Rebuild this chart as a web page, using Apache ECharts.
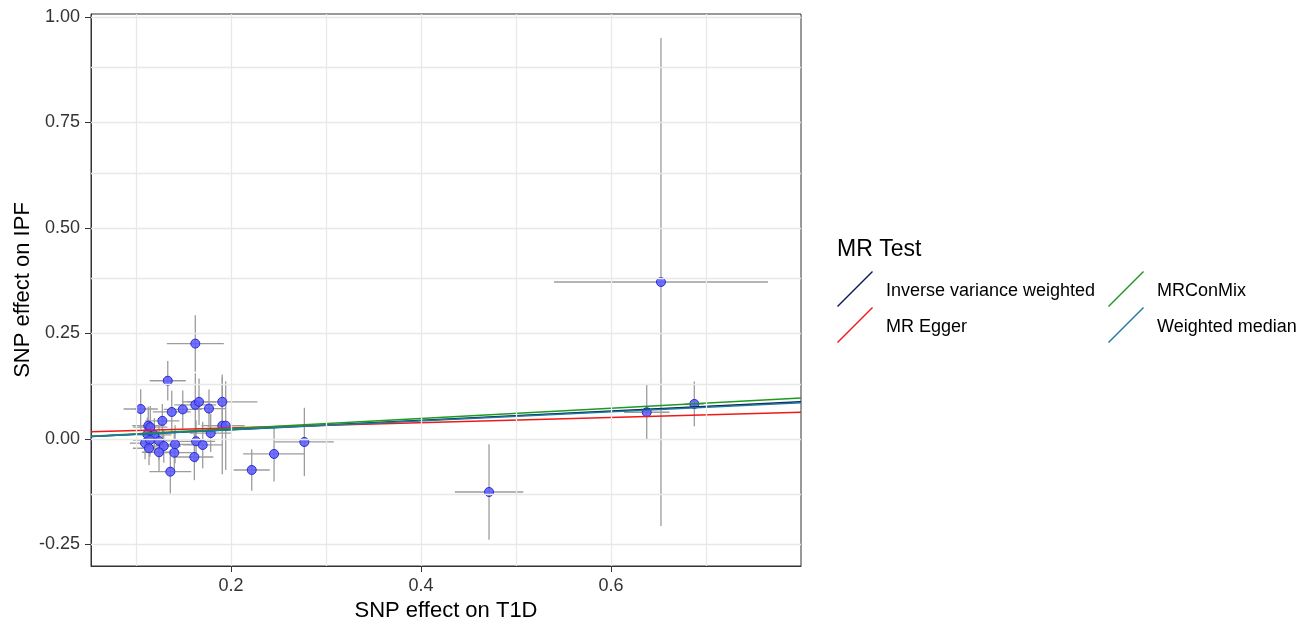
<!DOCTYPE html>
<html>
<head>
<meta charset="utf-8">
<script src="https://cdn.jsdelivr.net/npm/echarts@6/dist/echarts.min.js"></script>
<style>
  html, body { margin: 0; padding: 0; background: #fff; }
  #chart { width: 1309px; height: 624px; }
</style>
</head>
<body>
<div id="chart"></div>
<script>
// SNP effects (T1D on x, IPF on y) with half error bar lengths
var snpT1D = [0.1334, 0.1049, 0.1376, 0.1492, 0.1624, 0.1663, 0.1768, 0.1908, 0.1277, 0.1129,
              0.1150, 0.1908, 0.1944, 0.1786, 0.1119, 0.1193, 0.1095, 0.1147, 0.1242, 0.1292,
              0.1411, 0.1137, 0.1632, 0.1702, 0.1242, 0.1403, 0.1614, 0.1361, 0.1624, 0.2218,
              0.2453, 0.2772, 0.4716, 0.6526, 0.6376, 0.6877];
var snpIPF = [0.138, 0.071, 0.064, 0.070, 0.081, 0.088, 0.072, 0.088, 0.043, 0.0315,
              0.028, 0.0315, 0.0315, 0.014, 0.011, 0.0095, -0.010, -0.0024, -0.0047, -0.0166,
              -0.0126, -0.022, -0.0055, -0.0142, -0.0315, -0.0325, -0.0427, -0.0775, 0.226, -0.0735,
              -0.0355, -0.0071, -0.1256, 0.372, 0.0633, 0.083];
var seT1D = [0.019, 0.018, 0.020, 0.020, 0.022, 0.018, 0.018, 0.037, 0.018, 0.017,
             0.018, 0.022, 0.020, 0.022, 0.017, 0.018, 0.016, 0.018, 0.019, 0.018,
             0.020, 0.017, 0.020, 0.021, 0.018, 0.019, 0.020, 0.022, 0.030, 0.019,
             0.0325, 0.031, 0.036, 0.1126, 0.024, 0.010];
var seIPF = [0.047, 0.047, 0.050, 0.045, 0.075, 0.055, 0.045, 0.065, 0.040, 0.045,
             0.050, 0.115, 0.105, 0.045, 0.040, 0.040, 0.038, 0.040, 0.045, 0.040,
             0.045, 0.040, 0.050, 0.055, 0.045, 0.050, 0.055, 0.052, 0.067, 0.049,
             0.065, 0.081, 0.113, 0.578, 0.065, 0.053];

// MR estimates (lines y = a + b*x)
var methods = ['Inverse variance weighted', 'MR Egger', 'MRConMix', 'Weighted median'];
var slopes = [0.110, 0.062, 0.121, 0.107];
var intercepts = [0, 0.014, 0, 0];
var methodColors = ['#0c1a5a', '#f01818', '#1f9a1f', '#1b7b9b'];

var xMin = 0.0526, xMax = 0.80;
var yMin = -0.301, yMax = 1.007;
var xTicks = [0.2, 0.4, 0.6];
var xMinor = [0.1, 0.3, 0.5, 0.7];
var yTicks = [-0.25, 0, 0.25, 0.5, 0.75, 1.0];
var yMinor = [-0.125, 0.125, 0.375, 0.625, 0.875];

var font = "'Liberation Sans', Arial, sans-serif";

var errData = [], ptData = [];
for (var i = 0; i < snpT1D.length; i++) {
    errData.push([snpT1D[i], snpIPF[i], seT1D[i], seIPF[i]]);
    ptData.push([snpT1D[i], snpIPF[i]]);
}

var gridLines = [];
xTicks.concat(xMinor).forEach(function (v) { gridLines.push({xAxis: v}); });
yTicks.concat(yMinor).forEach(function (v) { gridLines.push({yAxis: v}); });

var series = [{
    name: 'grid',
    type: 'line',
    data: [],
    z: 1,
    markLine: {
        silent: true,
        symbol: 'none',
        animation: false,
        label: {show: false},
        lineStyle: {color: '#e8e8e8', type: 'solid', width: 1.3},
        data: gridLines
    }
}, {
    name: 'errors',
    type: 'custom',
    z: 2,
    clip: true,
    data: errData,
    renderItem: function (params, api) {
        var x = api.value(0), y = api.value(1), ex = api.value(2), ey = api.value(3);
        var l = api.coord([x - ex, y]), r = api.coord([x + ex, y]);
        var t = api.coord([x, y + ey]), b = api.coord([x, y - ey]);
        var st = {stroke: '#9c9c9c', lineWidth: 1.3};
        return {
            type: 'group',
            children: [
                {type: 'line', shape: {x1: l[0], y1: l[1], x2: r[0], y2: r[1]}, style: st},
                {type: 'line', shape: {x1: t[0], y1: t[1], x2: b[0], y2: b[1]}, style: st}
            ]
        };
    }
}, {
    name: 'points',
    type: 'scatter',
    z: 3,
    data: ptData,
    symbolSize: 9,
    itemStyle: {color: 'rgba(90,90,255,0.85)', borderColor: '#2a2ad0', borderWidth: 1, opacity: 1}
}];

for (var m = 0; m < methods.length; m++) {
    series.push({
        name: methods[m],
        type: 'line',
        z: 4,
        color: methodColors[m],
        showSymbol: false,
        silent: true,
        lineStyle: {width: 1.5, color: methodColors[m]},
        data: [[xMin, intercepts[m] + slopes[m] * xMin], [xMax, intercepts[m] + slopes[m] * xMax]]
    });
}

var legendBase = {
    orient: 'vertical',
    top: 271,
    padding: 0,
    itemWidth: 36,
    itemHeight: 36,
    itemGap: 0,
    icon: 'path://M0,35 L35,0 L36,1 L1,36 Z',
    formatter: function (name) { return '{t|' + name + '}'; },
    textStyle: {
        fontFamily: font, fontSize: 18, color: '#000',
        rich: {t: {fontFamily: font, fontSize: 18, color: '#000', padding: [5, 0, 0, 8]}}
    }
};

var chart = echarts.init(document.getElementById('chart'));
chart.setOption({
    animation: false,
    backgroundColor: '#fff',
    textStyle: {fontFamily: font},
    title: {
        text: 'MR Test',
        left: 837,
        top: 238,
        padding: 0,
        textStyle: {fontFamily: font, fontSize: 23, fontWeight: 'normal', color: '#000'}
    },
    legend: [
        echarts.util.extend({data: methods.slice(0, 2), left: 837}, legendBase),
        echarts.util.extend({data: methods.slice(2, 4), left: 1108}, legendBase)
    ],
    grid: {
        left: 91, top: 14, width: 710, height: 552,
        outerBoundsMode: 'none',
        containLabel: false,
        show: true, borderColor: '#333', borderWidth: 1, backgroundColor: '#fff'
    },
    xAxis: {
        type: 'value',
        min: xMin, max: xMax,
        name: 'SNP effect on T1D',
        nameLocation: 'middle',
        nameGap: 34,
        nameTextStyle: {fontFamily: font, fontSize: 22, color: '#000'},
        axisLine: {show: true, onZero: false, lineStyle: {color: '#333'}},
        axisTick: {show: true, length: 6, customValues: xTicks, lineStyle: {color: '#333'}},
        axisLabel: {
            customValues: xTicks, margin: 11, fontSize: 18, color: '#333', fontFamily: font,
            formatter: function (v) { return v.toFixed(1); }
        },
        splitLine: {show: false}
    },
    yAxis: {
        type: 'value',
        min: yMin, max: yMax,
        name: 'SNP effect on IPF',
        nameLocation: 'middle',
        nameMoveOverlap: false,
        nameGap: 57,
        nameTextStyle: {fontFamily: font, fontSize: 22, color: '#000'},
        axisLine: {show: true, onZero: false, lineStyle: {color: '#333'}},
        axisTick: {show: true, length: 6, customValues: yTicks, lineStyle: {color: '#333'}},
        axisLabel: {
            customValues: yTicks, margin: 11, fontSize: 18, color: '#333', fontFamily: font,
            formatter: function (v) { return v.toFixed(2); }
        },
        splitLine: {show: false}
    },
    series: series
});
</script>
</body>
</html>
